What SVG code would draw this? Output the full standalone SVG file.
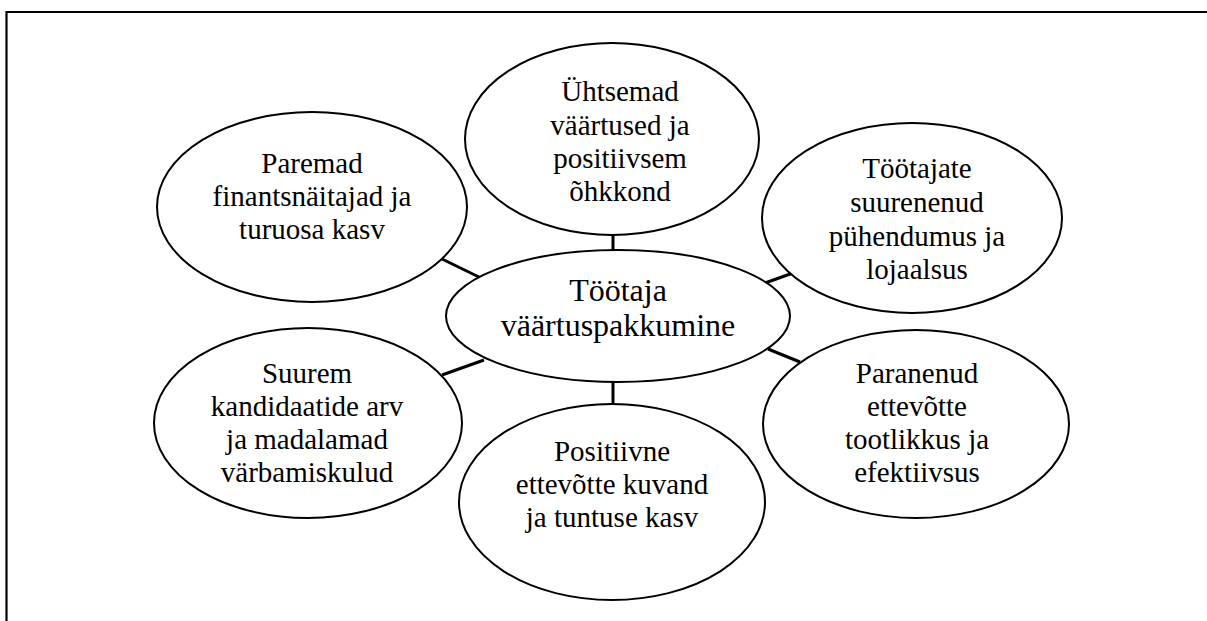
<svg xmlns="http://www.w3.org/2000/svg" width="1207" height="621" viewBox="0 0 1207 621">
<style>
.n{fill:#fff;stroke:#000;stroke-width:2}
.t{font-size:29px;fill:#000;text-anchor:middle}
.c{font-size:32px}
.k{stroke:#000;stroke-width:3;fill:none}
</style>
<rect width="1207" height="621" fill="#fff"/>
<path d="M6.5 621 V12 H1207" fill="none" stroke="#000" stroke-width="2.2"/>
<g id="connectors">
<line class="k" x1="613" y1="234" x2="613" y2="251"/>
<line class="k" x1="613" y1="382" x2="613" y2="404"/>
<line class="k" x1="442" y1="259" x2="481" y2="278"/>
<line class="k" x1="442" y1="375" x2="484" y2="360"/>
<line class="k" x1="765" y1="283" x2="793" y2="273"/>
<line class="k" x1="768" y1="349" x2="800" y2="362"/>
</g>
<g font-family="'Liberation Serif', Tinos, 'Times New Roman', 'DejaVu Serif', serif">
<g id="center">
<ellipse class="n" cx="618" cy="316" rx="172" ry="66"/>
<text class="t c" x="618" y="301">Töötaja</text>
<text class="t c" x="618" y="336">väärtuspakkumine</text>
</g>
<g id="top">
<ellipse class="n" cx="612" cy="139" rx="147" ry="96"/>
<text class="t" x="620" y="101">Ühtsemad</text>
<text class="t" x="620" y="135">väärtused ja</text>
<text class="t" x="620" y="168">positiivsem</text>
<text class="t" x="620" y="201">õhkkond</text>
</g>
<g id="left-top">
<ellipse class="n" cx="312" cy="207" rx="155" ry="95"/>
<text class="t" x="312" y="173">Paremad</text>
<text class="t" x="312" y="206">finantsnäitajad ja</text>
<text class="t" x="312" y="239">turuosa kasv</text>
</g>
<g id="right-top">
<ellipse class="n" cx="912" cy="218" rx="150" ry="95"/>
<text class="t" x="917" y="178">Töötajate</text>
<text class="t" x="917" y="212">suurenenud</text>
<text class="t" x="917" y="246">pühendumus ja</text>
<text class="t" x="917" y="279">lojaalsus</text>
</g>
<g id="left-bottom">
<ellipse class="n" cx="308" cy="423" rx="154" ry="95"/>
<text class="t" x="307" y="383">Suurem</text>
<text class="t" x="307" y="416">kandidaatide arv</text>
<text class="t" x="307" y="449">ja madalamad</text>
<text class="t" x="307" y="482">värbamiskulud</text>
</g>
<g id="bottom">
<ellipse class="n" cx="612" cy="502" rx="153" ry="98"/>
<text class="t" x="612" y="461">Positiivne</text>
<text class="t" x="612" y="494">ettevõtte kuvand</text>
<text class="t" x="612" y="527">ja tuntuse kasv</text>
</g>
<g id="right-bottom">
<ellipse class="n" cx="916" cy="424" rx="153" ry="94"/>
<text class="t" x="917" y="383">Paranenud</text>
<text class="t" x="917" y="416">ettevõtte</text>
<text class="t" x="917" y="449">tootlikkus ja</text>
<text class="t" x="917" y="482">efektiivsus</text>
</g>
</g>
</svg>
